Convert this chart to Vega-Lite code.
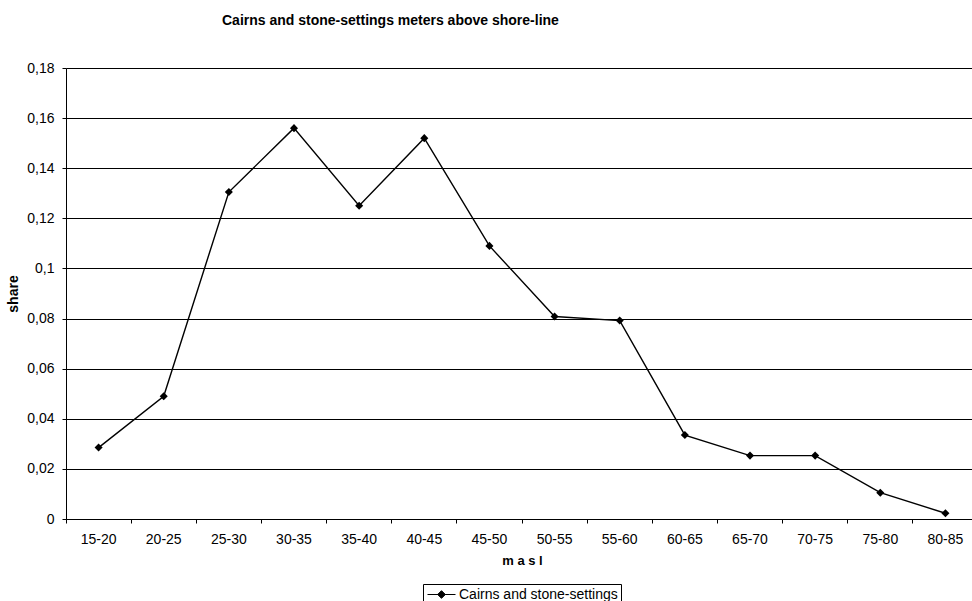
{
  "$schema": "https://vega.github.io/schema/vega-lite/v6.json",
  "width": 906,
  "height": 451,
  "autosize": {"type": "none"},
  "padding": {"left": 66, "top": 68, "right": 0, "bottom": 82},
  "background": "white",
  "title": {
    "text": "Cairns and stone-settings meters above shore-line",
    "font": "Liberation Sans",
    "fontSize": 14,
    "fontWeight": "bold",
    "color": "black",
    "anchor": "start",
    "dx": 216,
    "offset": 33
  },
  "config": {
    "view": {"stroke": null},
    "font": "Liberation Sans"
  },
  "data": {
    "values": [
      {"masl": "15-20", "share": 0.0285, "series": "Cairns and stone-settings"},
      {"masl": "20-25", "share": 0.049, "series": "Cairns and stone-settings"},
      {"masl": "25-30", "share": 0.1305, "series": "Cairns and stone-settings"},
      {"masl": "30-35", "share": 0.156, "series": "Cairns and stone-settings"},
      {"masl": "35-40", "share": 0.125, "series": "Cairns and stone-settings"},
      {"masl": "40-45", "share": 0.152, "series": "Cairns and stone-settings"},
      {"masl": "45-50", "share": 0.109, "series": "Cairns and stone-settings"},
      {"masl": "50-55", "share": 0.0808, "series": "Cairns and stone-settings"},
      {"masl": "55-60", "share": 0.0792, "series": "Cairns and stone-settings"},
      {"masl": "60-65", "share": 0.0335, "series": "Cairns and stone-settings"},
      {"masl": "65-70", "share": 0.0253, "series": "Cairns and stone-settings"},
      {"masl": "70-75", "share": 0.0253, "series": "Cairns and stone-settings"},
      {"masl": "75-80", "share": 0.0105, "series": "Cairns and stone-settings"},
      {"masl": "80-85", "share": 0.0023, "series": "Cairns and stone-settings"}
    ]
  },
  "mark": {
    "type": "line",
    "strokeWidth": 1.4,
    "point": {"shape": "diamond", "filled": true, "size": 65, "color": "black"}
  },
  "encoding": {
    "x": {
      "field": "masl",
      "type": "ordinal",
      "sort": null,
      "scale": {"type": "band", "paddingInner": 0, "paddingOuter": 0, "rangeMax": 912},
      "axis": {
        "title": "m a s l",
        "titleFont": "Liberation Sans",
        "titleFontSize": 13,
        "titleFontWeight": "bold",
        "titleColor": "black",
        "titleBaseline": "top",
        "titleY": 35,
        "labelAngle": 0,
        "labelFont": "Liberation Sans",
        "labelFontSize": 14,
        "labelColor": "black",
        "labelPadding": 9,
        "bandPosition": 0,
        "tickSize": 4,
        "tickColor": "black",
        "domainColor": "black",
        "grid": false
      }
    },
    "y": {
      "field": "share",
      "type": "quantitative",
      "scale": {"domain": [0, 0.18], "nice": false},
      "axis": {
        "title": "share",
        "titleFont": "Liberation Sans",
        "titleFontSize": 14,
        "titleFontWeight": "bold",
        "titleColor": "black",
        "titleX": -46,
        "titleBaseline": "bottom",
        "values": [0, 0.02, 0.04, 0.06, 0.08, 0.1, 0.12, 0.14, 0.16, 0.18],
        "labelExpr": "replace(format(datum.value, '.2~f'), '.', ',')",
        "labelFont": "Liberation Sans",
        "labelFontSize": 14,
        "labelColor": "black",
        "labelPadding": 8,
        "tickSize": 4,
        "tickColor": "black",
        "domainColor": "black",
        "grid": true,
        "gridColor": "black",
        "gridOpacity": 1,
        "gridWidth": 1
      }
    },
    "color": {
      "field": "series",
      "type": "nominal",
      "scale": {"range": ["black"]},
      "legend": {
        "title": null,
        "orient": "none",
        "legendX": 357,
        "legendY": 516,
        "strokeColor": "black",
        "padding": 3,
        "labelFont": "Liberation Sans",
        "labelFontSize": 14,
        "labelColor": "black",
        "symbolType": "M-2,0H2M-0.55,0L0,-0.55L0.55,0L0,0.55Z",
        "symbolSize": 196,
        "symbolStrokeWidth": 1,
        "symbolFillColor": "black",
        "symbolStrokeColor": "black",
        "symbolOffset": 8,
        "labelOffset": 10
      }
    }
  }
}
